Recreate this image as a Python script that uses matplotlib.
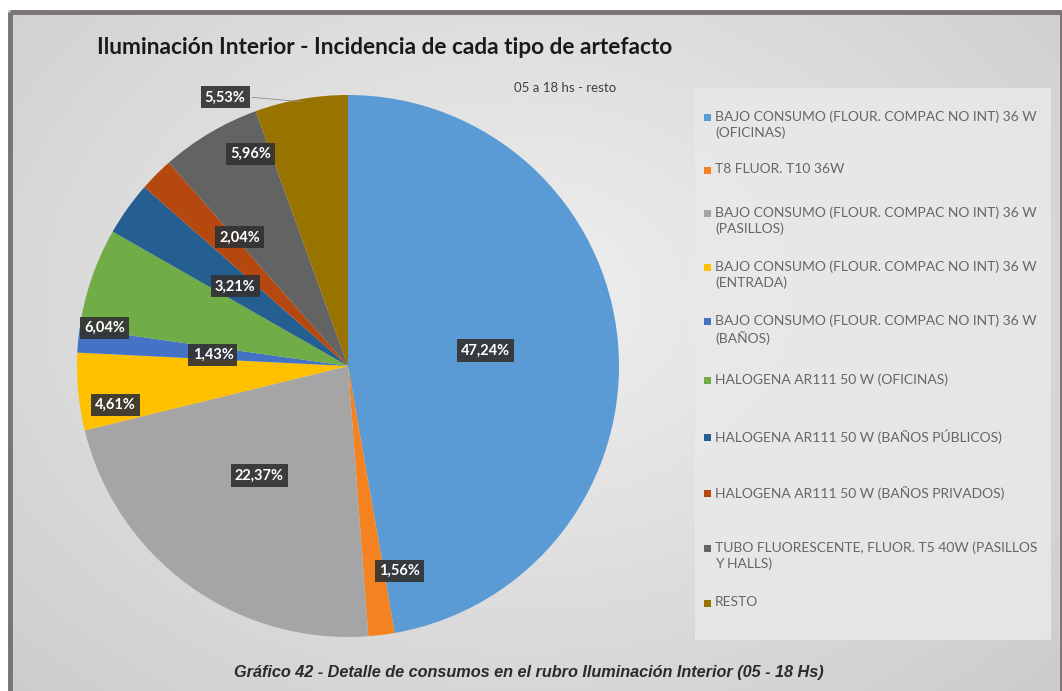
import textwrap
import numpy as np
import matplotlib
matplotlib.use("Agg")
import matplotlib.pyplot as plt
from matplotlib.patches import Rectangle

# ---------------- data ----------------
categories = [
    "BAJO CONSUMO (FLOUR. COMPAC NO INT) 36 W (OFICINAS)",
    "T8 FLUOR. T10 36W",
    "BAJO CONSUMO (FLOUR. COMPAC NO INT) 36 W (PASILLOS)",
    "BAJO CONSUMO (FLOUR. COMPAC NO INT) 36 W (ENTRADA)",
    "BAJO CONSUMO (FLOUR. COMPAC NO INT) 36 W (BAÑOS)",
    "HALOGENA AR111 50 W (OFICINAS)",
    "HALOGENA AR111 50 W (BAÑOS PÚBLICOS)",
    "HALOGENA AR111 50 W (BAÑOS PRIVADOS)",
    "TUBO FLUORESCENTE, FLUOR. T5 40W (PASILLOS Y HALLS)",
    "RESTO",
]
values = [47.24, 1.56, 22.37, 4.61, 1.43, 6.04, 3.21, 2.04, 5.96, 5.53]
colors = ["#5B9BD5", "#F58220", "#A5A5A5", "#FFC000", "#4472C4",
          "#70AD47", "#255E91", "#B5480E", "#636363", "#997300"]

title = "Iluminación Interior - Incidencia de cada tipo de artefacto"
subtitle = "05 a 18 hs - resto"
caption = "Gráfico 42 - Detalle de consumos en el rubro Iluminación Interior (05 - 18 Hs)"

# ---------------- layout ----------------
W, H = 1062, 691
fig = plt.figure(figsize=(W / 100, H / 100), dpi=100)

def fx(px):
    return px / W

def fy(py):
    return 1 - py / H

# background gradient
bg = fig.add_axes([0, 0, 1, 1], zorder=-10)
yy, xx = np.mgrid[0:H, 0:W]
d = np.sqrt(((xx - 520) / 700.0) ** 2 + ((yy - 300) / 520.0) ** 2)
shade = np.clip(0.94 - 0.13 * d, 0.78, 0.94)
img = np.dstack([shade, shade, shade])
img[:10, :, :] = 1.0
img[:, :8, :] = 1.0
bg.imshow(img, extent=[0, W, H, 0], aspect="auto", interpolation="bilinear")
bg.set_xlim(0, W)
bg.set_ylim(H, 0)
bg.axis("off")
# frame
bg.add_patch(Rectangle((10, 12), W - 10, H, fill=False, lw=3.5,
                       edgecolor="#7A7474"))
# legend panel
bg.add_patch(Rectangle((695, 88), 356, 552, facecolor="#E9E9E9",
                       edgecolor="none", alpha=0.85))

# pie
cx, cy, R = 348, 366, 271
ax = fig.add_axes([fx(cx - R), fy(cy + R), (2 * R) / W, (2 * R) / H])
wedges, _ = ax.pie(values, colors=colors, startangle=90, counterclock=False,
                   radius=1.0, wedgeprops=dict(linewidth=0))
ax.set_xlim(-1, 1)
ax.set_ylim(-1, 1)
ax.set_aspect("auto")
ax.axis("off")

# data labels (radius fraction, angle offset in degrees)
lab_r = [0.51, 0.78, 0.52, 0.87, 0.50, 0.91, 0.51, 0.62, 0.86, 1.09]
lab_da = [1.5, 7, -3, 4, 0.7, 10, 0.3, -5, -6, 14.6]
box = dict(boxstyle="square,pad=0.28", facecolor="#333333",
           edgecolor="none", alpha=0.92)
for w, v, r, da in zip(wedges, values, lab_r, lab_da):
    ang = np.deg2rad((w.theta1 + w.theta2) / 2 + da)
    x, y = r * np.cos(ang), r * np.sin(ang)
    ax.text(x, y, f"{v:.2f}%".replace(".", ","), ha="center", va="center",
            color="white", fontsize=10.5, fontweight="bold", family="Lato",
            bbox=box, zorder=5)
    if r > 1.0:
        mid = np.deg2rad((w.theta1 + w.theta2) / 2)
        ax.plot([x + 0.1, 0.99 * np.cos(mid)], [y, 0.99 * np.sin(mid)],
                color="#8C8C8C", lw=0.6, clip_on=False)

# titles
fig.text(fx(385), fy(47), title, ha="center", va="center", fontsize=16.3,
         fontweight="bold", family="Lato", color="#1A1A1A")
fig.text(fx(565), fy(88), subtitle, ha="center", va="center", fontsize=9.5,
         family="Lato", color="#404040")
fig.text(fx(529), fy(673), caption, ha="center", va="center", fontsize=11.7,
         fontweight="bold", style="italic", family="Liberation Sans",
         color="#2B2B2B")

# legend
leg_y = [117, 170, 213, 267, 321, 380, 437, 493, 548, 603]
for name, col, ly in zip(categories, colors, leg_y):
    bg.add_patch(Rectangle((704, ly - 3.5), 7, 7, facecolor=col,
                           edgecolor="none"))
    txt = "\n".join(textwrap.wrap(name, 42))
    fig.text(fx(715), fy(ly - 7), txt, ha="left", va="top", fontsize=10.0,
             family="Lato", color="#666666", linespacing=1.38)

fig.savefig("out.png", dpi=100)
